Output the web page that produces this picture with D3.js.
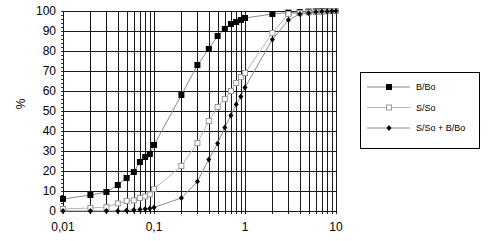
<!DOCTYPE html>
<html>
<head>
<meta charset="utf-8">
<script src="https://cdn.jsdelivr.net/npm/d3@7"></script>
<style>
  body { margin: 0; background: #fff; }
  svg { display: block; font-family: "Liberation Sans", Arial, sans-serif; }
</style>
</head>
<body>
<div id="app"></div>
<script>
// particle size (log) vs cumulative %
const sizes = [0.01, 0.02, 0.03, 0.04, 0.05, 0.06, 0.07, 0.08, 0.09, 0.1,
               0.2, 0.3, 0.4, 0.5, 0.6, 0.7, 0.8, 0.9, 1,
               2, 3, 4, 5, 6, 7, 8, 9, 10];
const bBo = [6, 8, 9.5, 13, 16.5, 19.5, 24.5, 27, 28.5, 33,
             58, 73, 81, 87.5, 91, 93.5, 94.5, 95.5, 96.5,
             98.5, 99.2, 99.5, 99.7, 99.8, 99.9, 100, 100, 100];
const sSo = [1, 1.5, 2, 3.8, 5, 5.3, 6.5, 7.3, 8.3, 11,
             22.5, 34, 45, 52, 56, 60, 64, 67, 69,
             89, 98.5, 99, 99.3, 99.5, 99.7, 99.8, 99.9, 100];
const sum = [0, 0, 0, 0, 0.3, 0.5, 0.8, 1, 1.3, 1.8,
             6.5, 14.7, 25.8, 33.8, 41.8, 47.7, 53.2, 57.2, 61.8,
             85.8, 95.5, 98.5, 99, 99.5, 99.7, 99.8, 99.9, 100];
const seriesNames = ["B/Bo", "S/So", "S/So + B/Bo"];
const yTicks = [0, 10, 20, 30, 40, 50, 60, 70, 80, 90, 100];
const xLabels = [0.01, 0.1, 1, 10];

function plotChart() {
    const svgWidth = 503;
    const svgHeight = 241;
    const margin = { top: 11, left: 63, right: 167, bottom: 30 };
    const width = 336 - margin.left;
    const height = 211 - margin.top;

    const svg = d3.select("#app").append("svg")
        .attr("width", svgWidth)
        .attr("height", svgHeight);

    const x = d3.scaleLog().domain([0.01, 10]).range([0, width]);
    const y = d3.scaleLinear().domain([0, 100]).range([height, 0]);

    const chart = svg.append("g")
        .attr("transform", "translate(" + margin.left + "," + margin.top + ")");

    // horizontal grid
    chart.append("g")
        .selectAll("line")
        .data(yTicks)
        .enter().append("line")
        .attr("x1", 0).attr("x2", width)
        .attr("y1", d => y(d) + 0.5).attr("y2", d => y(d) + 0.5)
        .attr("stroke", "#1a1a1a");

    // vertical log grid, a little past the axis
    chart.append("g")
        .selectAll("line")
        .data(x.ticks())
        .enter().append("line")
        .attr("x1", d => Math.round(x(d)) + 0.5).attr("x2", d => Math.round(x(d)) + 0.5)
        .attr("y1", 0).attr("y2", height + 3)
        .attr("stroke", "#1a1a1a");

    // minor ticks on the y axis
    chart.append("g")
        .selectAll("line")
        .data(d3.range(0, 101, 2))
        .enter().append("line")
        .attr("x1", -2).attr("x2", 0)
        .attr("y1", d => y(d) + 0.5).attr("y2", d => y(d) + 0.5)
        .attr("stroke", "#333");

    // y labels
    chart.append("g")
        .selectAll("text")
        .data(yTicks)
        .enter().append("text")
        .attr("x", -7)
        .attr("y", d => y(d))
        .attr("dy", "0.36em")
        .attr("text-anchor", "end")
        .attr("font-size", 12)
        .text(d => d);

    // x labels
    chart.append("g")
        .selectAll("text")
        .data(xLabels)
        .enter().append("text")
        .attr("x", d => x(d))
        .attr("y", height + 20)
        .attr("text-anchor", "middle")
        .attr("font-size", 12)
        .text(d => String(d).replace(".", ","));

    svg.append("text")
        .attr("transform", "translate(25,104) rotate(-90)")
        .attr("text-anchor", "middle")
        .attr("font-size", 12)
        .text("%");

    const series = [
        { name: seriesNames[0], values: bBo, line: "#8a8a8a", marker: "square" },
        { name: seriesNames[1], values: sSo, line: "#b5b5b5", marker: "open" },
        { name: seriesNames[2], values: sum, line: "#8a8a8a", marker: "diamond" }
    ];

    const line = d3.line()
        .x(d => x(d[0]))
        .y(d => y(d[1]));

    function drawMarker(g, type) {
        if (type === "square") {
            g.append("rect").attr("x", -3).attr("y", -3).attr("width", 6).attr("height", 6)
                .attr("fill", "#000");
        } else if (type === "open") {
            g.append("rect").attr("x", -2.5).attr("y", -2.5).attr("width", 5).attr("height", 5)
                .attr("fill", "#fff").attr("stroke", "#999").attr("stroke-width", 1);
        } else {
            g.append("path").attr("d", "M0,-3L2.5,0L0,3L-2.5,0Z").attr("fill", "#000");
        }
    }

    series.forEach(s => {
        const pts = sizes.map((v, i) => [v, s.values[i]]);
        chart.append("path")
            .datum(pts)
            .attr("fill", "none")
            .attr("stroke", s.line)
            .attr("stroke-width", 1)
            .attr("d", line);
        chart.append("g")
            .selectAll("g")
            .data(pts)
            .enter().append("g")
            .attr("transform", d => "translate(" + x(d[0]) + "," + y(d[1]) + ")")
            .each(function() { drawMarker(d3.select(this), s.marker); });
    });

    // legend
    const legend = svg.append("g").attr("transform", "translate(360,72)");
    legend.append("rect")
        .attr("x", 0.5).attr("y", 0.5)
        .attr("width", 119).attr("height", 76)
        .attr("fill", "#fff").attr("stroke", "#000");
    series.forEach((s, i) => {
        const row = legend.append("g").attr("transform", "translate(0," + (15 + i * 20.5) + ")");
        row.append("line").attr("x1", 7).attr("x2", 50)
            .attr("stroke", s.line).attr("stroke-width", 1);
        const m = row.append("g").attr("transform", "translate(29,0)");
        drawMarker(m, s.marker);
        row.append("text")
            .attr("x", 56).attr("dy", "0.35em")
            .attr("font-size", 9)
            .text(s.name);
    });
}

plotChart();
</script>
</body>
</html>
